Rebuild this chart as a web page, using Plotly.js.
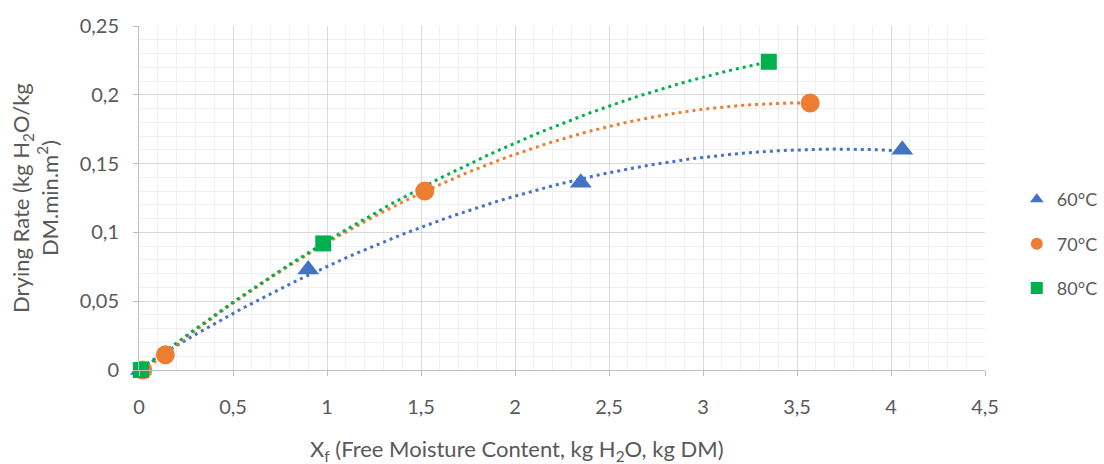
<!DOCTYPE html>
<html><head><meta charset="utf-8">
<script src="https://cdn.plot.ly/plotly-3.0.1.min.js"></script>
<style>html,body{margin:0;padding:0;background:#fff}#chart{width:1104px;height:464px}</style>
</head><body><div id="chart"></div>
<script>
// Data
const seriesNames = ["60°C", "70°C", "80°C"];
const x60 = [0.01, 0.90, 2.35, 4.06];
const y60 = [0, 0.073, 0.136, 0.160];
const x70 = [0.02, 0.14, 1.52, 3.57];
const y70 = [0, 0.011, 0.130, 0.194];
const x80 = [0.01, 0.98, 3.35];
const y80 = [0, 0.092, 0.224];
const colors = ["#4472C4", "#ED7D31", "#00B050"];
const symbols = ["triangle-up", "circle", "square"];

// 2nd-order polynomial trendline (least squares), as Excel does
function polyfit2(xs, ys) {
  let S = [0,0,0,0,0], T = [0,0,0];
  for (let i = 0; i < xs.length; i++) {
    let p = 1;
    for (let k = 0; k < 5; k++) { S[k] += p; if (k < 3) T[k] += p * ys[i]; p *= xs[i]; }
  }
  const A = [[S[0],S[1],S[2],T[0]],[S[1],S[2],S[3],T[1]],[S[2],S[3],S[4],T[2]]];
  for (let c = 0; c < 3; c++) {
    let piv = c;
    for (let r = c+1; r < 3; r++) if (Math.abs(A[r][c]) > Math.abs(A[piv][c])) piv = r;
    [A[c], A[piv]] = [A[piv], A[c]];
    for (let r = 0; r < 3; r++) if (r !== c) {
      const f = A[r][c] / A[c][c];
      for (let k = c; k < 4; k++) A[r][k] -= f * A[c][k];
    }
  }
  return [A[0][3]/A[0][0], A[1][3]/A[1][1], A[2][3]/A[2][2]];
}
function trend(xs, ys) {
  const c = polyfit2(xs, ys);
  const lo = Math.min(...xs), hi = Math.max(...xs);
  const tx = [], ty = [];
  for (let i = 0; i <= 100; i++) {
    const x = lo + (hi - lo) * i / 100;
    tx.push(x); ty.push(c[0] + c[1]*x + c[2]*x*x);
  }
  return {tx, ty};
}

const xs = [x60, x70, x80], ys = [y60, y70, y80];
const traces = [];
for (let s = 0; s < 3; s++) {
  const t = trend(xs[s], ys[s]);
  traces.push({x: t.tx, y: t.ty, mode: "lines", showlegend: false, hoverinfo: "skip",
    line: {color: colors[s], width: 3, dash: "3px,4px"}});
}
const msize = [19, 19, 16];
for (let s = 0; s < 3; s++) {
  traces.push({x: xs[s], y: ys[s], mode: "markers", name: seriesNames[s],
    legendgroup: "g" + s, cliponaxis: false,
    marker: {symbol: symbols[s], color: colors[s], size: msize[s]}});
}

const fam = "Lato, 'Open Sans', sans-serif";
const tickFont = {family: fam, size: 20, color: "#595959"};
const layout = {
  width: 1104, height: 464,
  margin: {l: 139, r: 119, t: 26, b: 94},
  paper_bgcolor: "#fff", plot_bgcolor: "#fff",
  separators: ", ",
  showlegend: true,
  legend: {xref: "container", yref: "container", x: 0.921, y: 0.474, xanchor: "left", yanchor: "middle",
    font: {family: fam, size: 18, color: "#595959"}, tracegroupgap: 18, traceorder: "grouped",
    itemwidth: 30, itemsizing: "constant", bgcolor: "rgba(0,0,0,0)"},
  xaxis: {range: [0, 4.5], dtick: 0.5, tick0: 0, showgrid: true, gridcolor: "#d9d9d9", gridwidth: 1,
    minor: {dtick: 0.1, showgrid: true, gridcolor: "#f0f0f0", gridwidth: 1},
    zeroline: false, showline: true, linecolor: "#bfbfbf", linewidth: 1,
    ticks: "outside", ticklen: 5, tickcolor: "#bfbfbf",
    tickfont: tickFont, fixedrange: true, ticklabelstandoff: 14},
  yaxis: {range: [0, 0.25], dtick: 0.05, tick0: 0, showgrid: true, gridcolor: "#d9d9d9", gridwidth: 1,
    minor: {dtick: 0.01, showgrid: true, gridcolor: "#f0f0f0", gridwidth: 1},
    zeroline: false, showline: true, linecolor: "#bfbfbf", linewidth: 1,
    ticks: "outside", ticklen: 5, tickcolor: "#bfbfbf",
    tickfont: tickFont, fixedrange: true, ticklabelstandoff: 10},
  annotations: [
    {text: "X<sub>f</sub> (Free Moisture Content, kg H<sub>2</sub>O, kg DM)", xref: "paper", yref: "paper",
     x: 0.4466, y: -0.232, xanchor: "center", yanchor: "middle", showarrow: false,
     font: {family: fam, size: 22, color: "#595959"}},
    {text: "Drying Rate (kg H<sub>2</sub>O/kg<br>DM.min.m<sup>2</sup>)", xref: "paper", yref: "paper",
     x: -0.123, y: 0.5, xanchor: "center", yanchor: "middle", textangle: -90, showarrow: false,
     font: {family: fam, size: 22, color: "#595959"}}
  ]
};
Plotly.newPlot("chart", traces, layout, {staticPlot: true, displayModeBar: false});
</script></body></html>
